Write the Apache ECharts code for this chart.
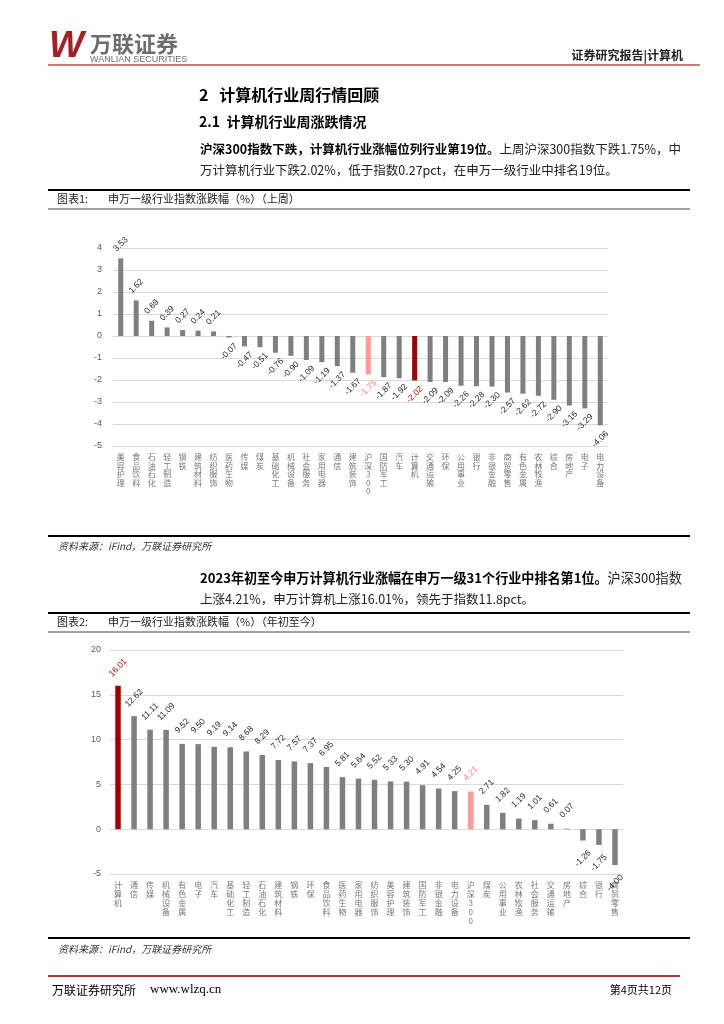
<!DOCTYPE html>
<html>
<head>
<meta charset="utf-8">
<script src="https://cdn.jsdelivr.net/npm/echarts@6/dist/echarts.min.js"></script>
<style>
html,body{margin:0;padding:0;background:#fff;}
#c{width:724px;height:1024px;}
</style>
</head>
<body>
<div id="c"></div>
<script>
// ---- Chart 1 data (上周) ----
const weekCats = ['美容护理','食品饮料','石油石化','轻工制造','钢铁','建筑材料','纺织服饰','医药生物','传媒','煤炭','基础化工','机械设备','社会服务','家用电器','通信','建筑装饰','沪深300','国防军工','汽车','计算机','交通运输','环保','公用事业','银行','非银金融','商贸零售','有色金属','农林牧渔','综合','房地产','电子','电力设备'];
const weekVals = [3.53,1.62,0.69,0.39,0.27,0.24,0.21,-0.07,-0.47,-0.51,-0.76,-0.90,-1.09,-1.19,-1.37,-1.67,-1.75,-1.87,-1.92,-2.02,-2.09,-2.09,-2.26,-2.28,-2.30,-2.57,-2.62,-2.72,-2.90,-3.16,-3.29,-4.06];
const weekTicks = {min:-5, max:4, interval:1};

// ---- Chart 2 data (年初至今) ----
const ytdCats = ['计算机','通信','传媒','机械设备','有色金属','电子','汽车','基础化工','轻工制造','石油石化','建筑材料','钢铁','环保','食品饮料','医药生物','家用电器','纺织服饰','美容护理','建筑装饰','国防军工','非银金融','电力设备','沪深300','煤炭','公用事业','农林牧渔','社会服务','交通运输','房地产','综合','银行','商贸零售'];
const ytdVals = [16.01,12.62,11.11,11.09,9.52,9.50,9.19,9.14,8.68,8.29,7.72,7.57,7.37,6.95,5.81,5.64,5.52,5.33,5.30,4.91,4.54,4.25,4.21,2.71,1.82,1.19,1.01,0.61,0.07,-1.26,-1.75,-4.00];
const ytdTicks = {min:-5, max:20, interval:5};

const CJK = '"Noto Sans CJK SC", sans-serif';
const SANS = '"Liberation Sans", Arial, sans-serif';

function makeData(vals, cats){
  return vals.map((v,i)=>{
    const c = cats[i];
    let color = '#7f7f7f', lc = '#262626';
    if (c === '计算机'){ color = '#a50000'; lc = '#c00000'; }
    else if (c === '沪深300'){ color = '#ff9999'; lc = '#ff7c80'; }
    return {value:v, itemStyle:{color:color}, label:{position: v>=0 ? 'top' : 'bottom', color: lc}};
  });
}
function catFmt(s){
  return s.split('').join('\n');
}

const chart = echarts.init(document.getElementById('c'), null, {renderer:'canvas'});

function hline(x1,x2,y,w,color){
  return {type:'line', shape:{x1:x1,y1:y,x2:x2,y2:y}, style:{stroke:color, lineWidth:w}, silent:true};
}
function txt(x,y,text,font,fill,align,extra){
  const st = Object.assign({x:x,y:y,text:text,font:font,fill:fill||'#000',textAlign:align||'left',textVerticalAlign:'middle'}, extra||{});
  return {type:'text', style:st, silent:true};
}

const graphics = [
  // header
  txt(49,47,'W','italic bold 37px "Liberation Sans"','#a31f24'),
  txt(90,44,'万联证券','bold 22px '+CJK,'#6d6d6d'),
  txt(90,60,'WANLIAN SECURITIES','9px '+SANS,'#6d6d6d'),
  txt(683,55,'证券研究报告|计算机','bold 12px '+CJK,'#222','right'),
  hline(48,700,65,1.5,'#b5524f'),
  // section headings
  txt(199,95,'2   计算机行业周行情回顾','bold 16px '+CJK,'#000'),
  txt(199,122,'2.1  计算机行业周涨跌情况','bold 14px '+CJK,'#000'),
  {type:'text', silent:true, style:{x:200,y:149,textVerticalAlign:'middle',
    text:'{b|沪深300指数下跌，计算机行业涨幅位列行业第19位。}{n|上周沪深300指数下跌1.75%，中}',
    rich:{b:{font:'bold 12.5px '+CJK, fill:'#000'}, n:{font:'12.5px '+CJK, fill:'#222'}}}},
  txt(200,170,'万计算机行业下跌2.02%，低于指数0.27pct，在申万一级行业中排名19位。','12.5px '+CJK,'#222'),
  // figure 1 title
  hline(48,690,190,2,'#000'),
  txt(57,199,'图表1:','11px '+CJK,'#222'),
  txt(108,199,'申万一级行业指数涨跌幅（%）（上周）','11px '+CJK,'#222'),
  hline(48,690,209,1,'#444'),
  // source 1
  hline(48,690,536,2,'#000'),
  txt(58,546,'资料来源：iFind，万联证券研究所','italic 10px '+CJK,'#333'),
  // paragraph 2
  {type:'text', silent:true, style:{x:200,y:578,textVerticalAlign:'middle',
    text:'{b|2023年初至今申万计算机行业涨幅在申万一级31个行业中排名第1位。}{n|沪深300指数}',
    rich:{b:{font:'bold 13.1px '+CJK, fill:'#000'}, n:{font:'13.1px '+CJK, fill:'#222'}}}},
  txt(200,599,'上涨4.21%，申万计算机上涨16.01%，领先于指数11.8pct。','12.5px '+CJK,'#222'),
  // figure 2 title
  hline(48,690,613,2,'#000'),
  txt(57,622,'图表2:','11px '+CJK,'#222'),
  txt(108,622,'申万一级行业指数涨跌幅（%）（年初至今）','11px '+CJK,'#222'),
  hline(48,690,632,1,'#444'),
  // source 2
  hline(48,690,938,2,'#000'),
  txt(58,949,'资料来源：iFind，万联证券研究所','italic 10px '+CJK,'#333'),
  // footer
  hline(48,680,976,2,'#a83a3a'),
  txt(52,990,'万联证券研究所','12px '+CJK,'#000'),
  txt(150,990,'www.wlzq.cn','13px "Liberation Serif", serif','#000'),
  txt(672,990,'第4页共12页','11px '+CJK,'#000','right')
];

const baseLabel = {show:true, rotate:45, align:'center', verticalAlign:'middle', fontSize:8.5, fontFamily:SANS,
  formatter:(p)=>p.value.toFixed(2)};

chart.setOption({
  backgroundColor:'#fff',
  animation:false,
  grid:[
    {left:113, top:248, width:495, height:198},
    {left:110, top:650, width:513, height:224}
  ],
  xAxis:[
    {type:'category', gridIndex:0, data:weekCats, axisLine:{show:false}, axisTick:{show:false},
     axisLabel:{interval:0, formatter:catFmt, fontSize:8, lineHeight:8.5, color:'#777', fontFamily:CJK, margin:7}},
    {type:'category', gridIndex:1, data:ytdCats, axisLine:{show:false}, axisTick:{show:false},
     axisLabel:{interval:0, formatter:catFmt, fontSize:8, lineHeight:8.8, color:'#777', fontFamily:CJK, margin:7}}
  ],
  yAxis:[
    {type:'value', gridIndex:0, min:weekTicks.min, max:weekTicks.max, interval:weekTicks.interval,
     axisLine:{show:false}, axisTick:{show:false},
     axisLabel:{fontSize:9, color:'#595959', fontFamily:SANS, margin:11},
     splitLine:{lineStyle:{color:'#d9d9d9', width:1.2}}},
    {type:'value', gridIndex:1, min:ytdTicks.min, max:ytdTicks.max, interval:ytdTicks.interval,
     axisLine:{show:false}, axisTick:{show:false},
     axisLabel:{fontSize:9, color:'#595959', fontFamily:SANS, margin:9},
     splitLine:{lineStyle:{color:'#d9d9d9', width:1.2}}}
  ],
  series:[
    {type:'bar', xAxisIndex:0, yAxisIndex:0, barWidth:5, data:makeData(weekVals, weekCats),
     label:Object.assign({}, baseLabel, {distance:14})},
    {type:'bar', xAxisIndex:1, yAxisIndex:1, barWidth:5.5, data:makeData(ytdVals, ytdCats),
     label:Object.assign({}, baseLabel, {distance:18})}
  ],
  graphic:graphics
});
</script>
</body>
</html>
